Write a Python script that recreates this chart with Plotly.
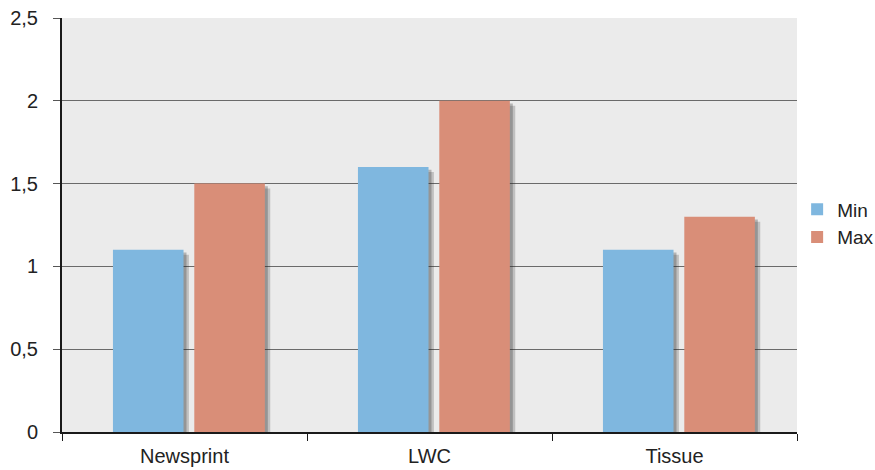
import plotly.graph_objects as go

categories = ["Newsprint", "LWC", "Tissue"]
min_values = [1.1, 1.6, 1.1]
max_values = [1.5, 2.0, 1.3]
series_names = ["Min", "Max"]
y_ticks = [0, 0.5, 1, 1.5, 2, 2.5]

BLUE = "#7fb7df"
SALMON = "#d98e78"

# bar geometry in category units (one category = 1.0)
BAR_W = 0.288
OFFSETS = [-0.292, 0.040]
SHADOW_DX = 0.022   # shadow shift to the right
SHADOW_DY = 0.03    # shadow shift downward (data units)

fig = go.Figure()

series = [(series_names[0], min_values, BLUE), (series_names[1], max_values, SALMON)]

# soft drop shadows: two layers, drawn beneath the bars
for dx_scale, alpha in [(1.0, 0.22), (0.55, 0.28)]:
    for (name, vals, _), off in zip(series, OFFSETS):
        fig.add_trace(go.Bar(
            x=categories,
            y=vals,
            base=-SHADOW_DY * dx_scale,
            width=BAR_W,
            offset=off + SHADOW_DX * dx_scale,
            marker=dict(color=f"rgba(40,40,40,{alpha})", line=dict(width=0)),
            showlegend=False,
            hoverinfo="skip",
        ))

for (name, vals, color), off in zip(series, OFFSETS):
    fig.add_trace(go.Bar(
        x=categories,
        y=vals,
        name=name,
        width=BAR_W,
        offset=off,
        marker=dict(color=color, line=dict(width=0)),
    ))

fig.update_layout(
    width=875,
    height=470,
    barmode="overlay",
    separators=",.",
    margin=dict(l=62, r=78, t=18, b=38, autoexpand=False),
    paper_bgcolor="white",
    plot_bgcolor="#ebebeb",
    font=dict(family="Liberation Sans, Arial, sans-serif", size=20, color="#222222"),
    legend=dict(
        xref="container", yref="container",
        x=0.911, y=0.595, xanchor="left", yanchor="top",
        font=dict(size=19, color="#222222"),
        bgcolor="rgba(0,0,0,0)",
        itemwidth=30,
    ),
    xaxis=dict(
        type="category",
        range=[-0.5, 2.5],
        showline=True, linecolor="#1a1a1a", linewidth=2,
        ticks="outside", tickson="boundaries", ticklen=7, tickcolor="#1a1a1a", tickwidth=1,
        showgrid=False,
        ticklabelstandoff=5,
        tickfont=dict(size=20, color="#222222"),
    ),
    yaxis=dict(
        range=[0, 2.5],
        tickvals=y_ticks,
        showline=True, linecolor="#1a1a1a", linewidth=2,
        ticks="outside", ticklen=7, tickcolor="#555555", tickwidth=1,
        showgrid=True, gridcolor="#6a6a6a", gridwidth=1,
        zeroline=False,
        ticklabelstandoff=11,
        tickfont=dict(size=20, color="#222222"),
    ),
)

fig.write_html("out.html")
